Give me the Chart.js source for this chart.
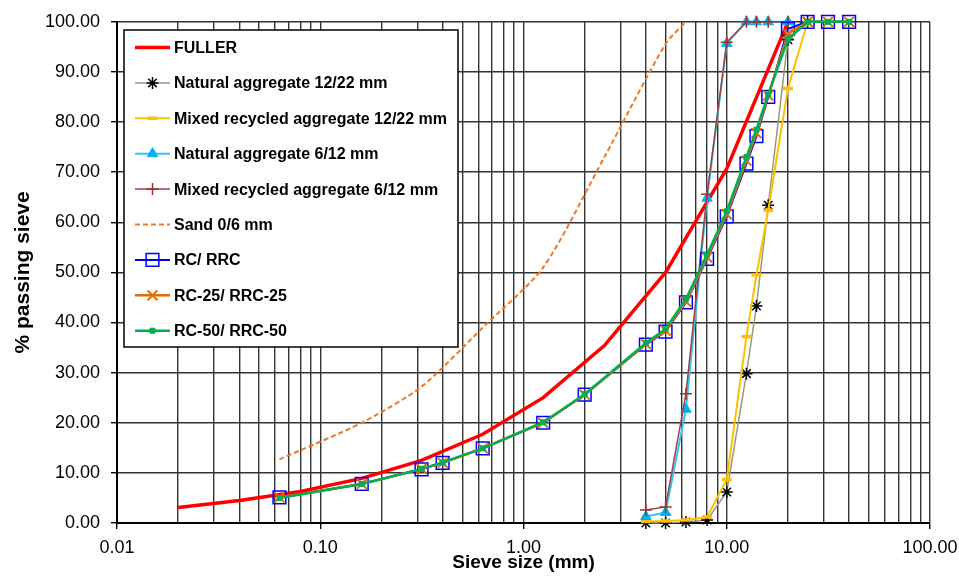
<!DOCTYPE html>
<html>
<head>
<meta charset="utf-8">
<script src="https://cdn.jsdelivr.net/npm/chart.js@4.4.1/dist/chart.umd.min.js"></script>
<style>
  html, body { margin: 0; padding: 0; background: #fff; }
</style>
</head>
<body>
<canvas id="gradingchart" width="959" height="577"></canvas>
<script>
// sieve sizes (mm) and % passing for each curve
var fullerSizes = [0.02, 0.04, 0.08, 0.16, 0.315, 0.63, 1.25, 2.5, 5, 10, 20];
var fullerPass = [3.1, 4.5, 6.3, 8.9, 12.5, 17.7, 25.0, 35.4, 50.0, 70.7, 100];

var coarseSizes = [4, 5, 6.3, 8, 10, 12.5, 14, 16, 20, 25];
var natural1222 = [0, 0, 0.2, 0.6, 6.2, 29.8, 43.3, 63.4, 96.4, 100];
var mixed1222 = [0.3, 0.4, 0.6, 1.2, 8.7, 37.2, 49.5, 62.4, 86.7, 100];

var midSizes = [4, 5, 6.3, 8, 10, 12.5, 14, 16, 20];
var natural612 = [1.3, 2.1, 22.7, 64.8, 95.7, 100, 100, 100, 100];
var mixed612 = [2.6, 3.2, 25.8, 65.6, 95.9, 100, 100, 100, 100];

var sandSizes = [0.063, 0.16, 0.315, 0.63, 1.25, 2.5, 5, 6.3];
var sandPass = [12.7, 20.0, 27.2, 39.0, 51.0, 73.0, 95.6, 100];

var mixSizes = [0.063, 0.16, 0.315, 0.4, 0.63, 1.25, 2, 4, 5, 6.3, 8, 10, 12.5, 14, 16, 20, 25, 31.5, 40];
var rcPass = [5.1, 7.8, 10.7, 12.0, 14.9, 20.0, 25.6, 35.6, 38.2, 44.0, 52.7, 61.2, 71.7, 77.2, 85.0, 98.6, 100, 100, 100];
var rc25Pass = [5.1, 7.8, 10.8, 12.0, 14.9, 20.0, 25.6, 35.7, 38.4, 44.2, 53.0, 61.6, 72.3, 77.8, 85.3, 97.6, 100, 100, 100];
var rc50Pass = [5.0, 7.8, 10.8, 12.1, 14.9, 20.1, 25.7, 35.9, 38.7, 44.7, 53.5, 62.2, 73.0, 78.5, 85.5, 96.5, 100, 100, 100];

var yTicks = [0, 10, 20, 30, 40, 50, 60, 70, 80, 90, 100];

function pts(xs, ys) {
    return xs.map(function (x, i) { return { x: x, y: ys[i] }; });
}

function isDecade(v) {
    var l = Math.log10(v);
    return Math.abs(l - Math.round(l)) < 1e-6;
}

// every 1..9 x 10^n between 0.01 and 100, for the log grid
var xGrid = [];
for (var e = -2; e <= 1; e++) {
    for (var m = 1; m <= 9; m++) {
        xGrid.push(Number((m * Math.pow(10, e)).toPrecision(3)));
    }
}
xGrid.push(100);

var datasets = [
    { label: 'FULLER', data: pts(fullerSizes, fullerPass),
      borderColor: '#ff0000', borderWidth: 3.5, pointRadius: 0 },
    { label: 'Natural aggregate 12/22 mm', data: pts(coarseSizes, natural1222),
      borderColor: '#9c9878', borderWidth: 1.5,
      pointStyle: 'star', pointRadius: 6, pointBorderColor: '#000', pointBackgroundColor: '#000', pointBorderWidth: 1.5 },
    { label: 'Mixed recycled aggregate 12/22 mm', data: pts(coarseSizes, mixed1222),
      borderColor: '#ffc000', borderWidth: 2,
      pointStyle: 'line', pointRadius: 5, pointBorderColor: '#ffc000', pointBackgroundColor: '#ffc000', pointBorderWidth: 3.5 },
    { label: 'Natural aggregate 6/12 mm', data: pts(midSizes, natural612),
      borderColor: '#33c4f4', borderWidth: 2,
      pointStyle: 'triangle', pointRadius: 6, pointBorderColor: '#00b0f0', pointBackgroundColor: '#00b0f0', pointBorderWidth: 1 },
    { label: 'Mixed recycled aggregate 6/12 mm', data: pts(midSizes, mixed612),
      borderColor: '#a04040', borderWidth: 1.5,
      pointStyle: 'cross', pointRadius: 6, pointBorderColor: '#993333', pointBackgroundColor: '#993333', pointBorderWidth: 1.5 },
    { label: 'Sand 0/6 mm', data: pts(sandSizes, sandPass),
      borderColor: '#f07820', borderWidth: 2, borderDash: [5, 3], pointRadius: 0, tension: 0.25 },
    { label: 'RC/ RRC', data: pts(mixSizes, rcPass),
      borderColor: '#0000ff', borderWidth: 2,
      pointStyle: 'rect', pointRadius: 9, pointBorderColor: '#0000ff', pointBackgroundColor: 'rgba(0,0,0,0)', pointBorderWidth: 1.5 },
    { label: 'RC-25/ RRC-25', data: pts(mixSizes, rc25Pass),
      borderColor: '#e46c0a', borderWidth: 2.5,
      pointStyle: 'crossRot', pointRadius: 7, pointBorderColor: '#e46c0a', pointBackgroundColor: '#e46c0a', pointBorderWidth: 2 },
    { label: 'RC-50/ RRC-50', data: pts(mixSizes, rc50Pass),
      borderColor: '#00b050', borderWidth: 2.5,
      pointStyle: 'rect', pointRadius: 3.5, pointBorderColor: '#00b050', pointBackgroundColor: '#00b050', pointBorderWidth: 1 }
];
datasets.forEach(function (ds, i) {
    ds.order = datasets.length - i;   // later series on top
    ds.clip = false;
    if (ds.tension === undefined) ds.tension = 0;
    ds.fill = false;
});

// boxed legend inside the plot area
var boxLegend = {
    id: 'boxLegend',
    afterDraw: function (chart) {
        var ctx = chart.ctx;
        var left = 124, top = 30, right = 458, bottom = 347;
        ctx.save();
        ctx.fillStyle = '#fff';
        ctx.fillRect(left, top, right - left, bottom - top);
        ctx.strokeStyle = '#000';
        ctx.lineWidth = 1.5;
        ctx.strokeRect(left, top, right - left, bottom - top);

        ctx.font = 'bold 16px "Liberation Sans", Arial, sans-serif';
        ctx.textBaseline = 'middle';
        chart.data.datasets.forEach(function (ds, i) {
            var y = 47.5 + i * 35.4;
            ctx.strokeStyle = ds.borderColor;
            ctx.lineWidth = ds.borderWidth;
            ctx.setLineDash(ds.borderDash || []);
            ctx.beginPath();
            ctx.moveTo(135, y);
            ctx.lineTo(170, y);
            ctx.stroke();
            ctx.setLineDash([]);
            if (ds.pointRadius > 0) {
                ctx.strokeStyle = ds.pointBorderColor;
                ctx.fillStyle = ds.pointBackgroundColor;
                ctx.lineWidth = ds.pointBorderWidth;
                Chart.helpers.drawPoint(ctx, {
                    pointStyle: ds.pointStyle,
                    radius: ds.pointRadius,
                    rotation: 0,
                    borderWidth: ds.pointBorderWidth
                }, 152.5, y);
            }
            ctx.fillStyle = '#000';
            ctx.fillText(ds.label, 174, y + 1);
        });
        ctx.restore();
    }
};

var chart1 = new Chart(document.getElementById('gradingchart'), {
    type: 'line',
    data: { datasets: datasets },
    plugins: [boxLegend],
    options: {
        responsive: false,
        animation: false,
        layout: { padding: { top: 20, right: 29, left: 0, bottom: 0 } },
        plugins: {
            legend: { display: false },
            tooltip: { enabled: false }
        },
        scales: {
            x: {
                type: 'logarithmic',
                min: 0.01,
                max: 100,
                afterBuildTicks: function (scale) {
                    scale.ticks = xGrid.map(function (v) { return { value: v }; });
                },
                afterFit: function (scale) {
                    scale.height = 54;
                    scale.paddingLeft = 0;
                    scale.paddingRight = 0;
                },
                ticks: {
                    autoSkip: false,
                    maxRotation: 0,
                    padding: 8,
                    color: '#000',
                    font: { family: '"Liberation Sans", Arial, sans-serif', size: 18 },
                    callback: function (v) { return isDecade(v) ? v.toFixed(2) : ''; }
                },
                grid: {
                    color: '#333',
                    lineWidth: 1.4,
                    tickLength: 6,
                    tickColor: function (c) {
                        return c.tick && isDecade(c.tick.value) ? '#000' : 'rgba(0,0,0,0)';
                    }
                },
                border: { color: '#000', width: 2 },
                title: {
                    display: true,
                    text: 'Sieve size (mm)',
                    color: '#000',
                    padding: { top: 0, bottom: 3 },
                    font: { family: '"Liberation Sans", Arial, sans-serif', size: 19, weight: 'bold' }
                }
            },
            y: {
                min: 0,
                max: 100,
                afterBuildTicks: function (scale) {
                    scale.ticks = yTicks.map(function (v) { return { value: v }; });
                },
                afterFit: function (scale) { scale.width = 117; },
                ticks: {
                    padding: 11,
                    color: '#000',
                    font: { family: '"Liberation Sans", Arial, sans-serif', size: 18 },
                    callback: function (v) { return Number(v).toFixed(2); }
                },
                grid: { color: '#333', lineWidth: 1.4, tickLength: 6, tickColor: '#000' },
                border: { color: '#000', width: 2 },
                title: {
                    display: true,
                    text: '% passing sieve',
                    color: '#000',
                    padding: { top: 11, bottom: 0 },
                    font: { family: '"Liberation Sans", Arial, sans-serif', size: 21, weight: 'bold' }
                }
            }
        }
    }
});
</script>
</body>
</html>
